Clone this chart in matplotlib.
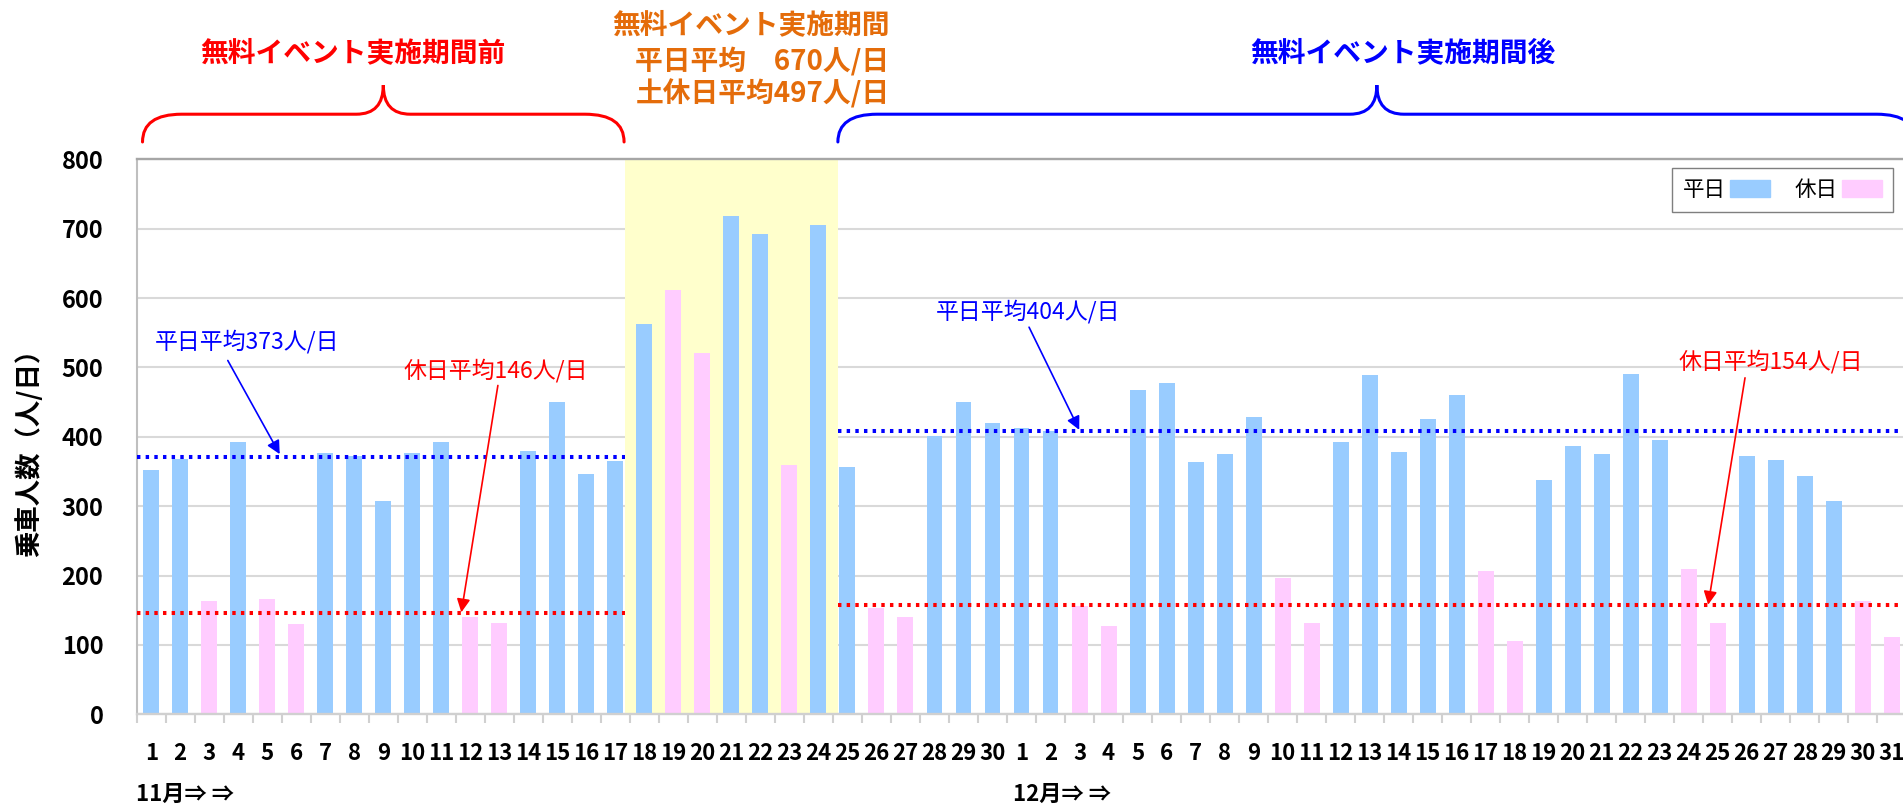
import matplotlib
matplotlib.use("Agg")
import matplotlib.pyplot as plt
from matplotlib.path import Path
import matplotlib.patches as patches

plt.rcParams['font.family'] = ['Noto Sans CJK JP', 'DejaVu Sans']

# 11/1 - 12/31, daily riders
day_labels = [str(d) for d in range(1, 31)] + [str(d) for d in range(1, 32)]
riders = [352, 368, 163, 393, 166, 130, 376, 372, 308, 376, 392, 140, 131, 380, 450,
          347, 365, 563, 611, 521, 718, 693, 359, 706, 356, 153, 140, 401, 450, 420,
          413, 408, 156, 128, 468, 478, 364, 375, 428, 197, 131, 393, 489, 378, 426,
          460, 206, 105, 338, 387, 375, 490, 395, 210, 131, 373, 366, 344, 307, 164, 111]
# 1 = holiday (土休日), 0 = weekday
holiday = [0, 0, 1, 0, 1, 1, 0, 0, 0, 0, 0, 1, 1, 0, 0, 0, 0, 0, 1, 1, 0, 0, 1, 0, 0, 1, 1, 0, 0, 0,
           0, 0, 1, 1, 0, 0, 0, 0, 0, 1, 1, 0, 0, 0, 0, 0, 1, 1, 0, 0, 0, 0, 0, 1, 1, 0, 0, 0, 0, 1, 1]

# average lines: (weekday, holiday) for before / after the event
avg_before = [371, 146]
avg_after = [408, 157]
avg_labels_before = ["平日平均373人/日", "休日平均146人/日"]
avg_labels_after = ["平日平均404人/日", "休日平均154人/日"]

period_titles = ["無料イベント実施期間前", "無料イベント実施期間後"]
event_lines = ["無料イベント実施期間", "平日平均　670人/日", "土休日平均497人/日"]
month_labels = ["11月⇒ ⇒", "12月⇒ ⇒"]
legend_labels = ["平日", "休日"]

BLUE_BAR = "#99CCFF"
PINK_BAR = "#FFCCFF"
ORANGE = "#E46C0A"

# x ranges (category units) of the periods
before_rng = (-0.5, 16.33)
event_rng = (16.33, 23.66)
after_rng = (23.66, 60.6)


def draw_brace(ax, x0, x1, xm, color):
    y_end, y_h, y_tip = 825, 865, 907
    dx, dt = 1.35, 0.93
    verts = [(x0, y_end), (x0, y_h), (x0 + dx, y_h),
             (xm - dt, y_h),
             (xm, y_h), (xm, y_tip),
             (xm, y_h), (xm + dt, y_h),
             (x1 - dx, y_h),
             (x1, y_h), (x1, y_end)]
    codes = [Path.MOVETO, Path.CURVE3, Path.CURVE3,
             Path.LINETO,
             Path.CURVE3, Path.CURVE3,
             Path.CURVE3, Path.CURVE3,
             Path.LINETO,
             Path.CURVE3, Path.CURVE3]
    p = patches.PathPatch(Path(verts, codes), facecolor='none', edgecolor=color,
                          lw=2.2, clip_on=False, capstyle='round')
    ax.add_patch(p)


fig = plt.figure(figsize=(19.03, 8.07), dpi=100)
ax = fig.add_axes([0.07184, 0.11487, 0.92990, 0.68773])

x = list(range(len(riders)))
colors = [PINK_BAR if h else BLUE_BAR for h in holiday]

ax.axvspan(event_rng[0], event_rng[1], ymin=0, ymax=1, color="#FFFFCC", zorder=0.8, lw=0)
ax.bar(x, riders, width=0.55, color=colors, zorder=2)

# gridlines
ax.set_axisbelow(True)
ax.yaxis.grid(True, color="#D9D9D9", lw=1.5)
ax.set_ylim(0, 800)
ax.set_xlim(-0.5, 60.5)
ax.set_yticks(range(0, 801, 100))
ax.tick_params(axis='y', length=0, pad=24, labelsize=17)
for lab in ax.get_yticklabels():
    lab.set_fontweight('bold')

ax.set_xticks(x)
ax.set_xticklabels(day_labels, fontsize=16, fontweight='bold')
ax.set_xticks([i - 0.5 for i in range(len(riders) + 1)], minor=True)
ax.tick_params(axis='x', which='major', length=0, pad=20)
ax.tick_params(axis='x', which='minor', length=6.5, width=1.5, color="#D0D0D0")

ax.spines['top'].set_color("#A6A6A6")
ax.spines['top'].set_linewidth(1.7)
ax.spines['left'].set_color("#BFBFBF")
ax.spines['left'].set_linewidth(1.5)
ax.spines['bottom'].set_color("#D0D0D0")
ax.spines['bottom'].set_linewidth(1.7)
ax.spines['right'].set_visible(False)

# average lines
dot = (0, (0.85, 1.3))
ax.plot(before_rng, [avg_before[0]] * 2, color="#0000FF", lw=2.9, ls=dot, zorder=3)
ax.plot(before_rng, [avg_before[1]] * 2, color="#FF0000", lw=2.9, ls=dot, zorder=3)
ax.plot(after_rng, [avg_after[0]] * 2, color="#0000FF", lw=2.9, ls=dot, zorder=3, clip_on=False)
ax.plot(after_rng, [avg_after[1]] * 2, color="#FF0000", lw=2.9, ls=dot, zorder=3, clip_on=False)

arrow_kw = dict(arrowstyle='-|>', lw=1.2, mutation_scale=20, shrinkA=0, shrinkB=0)
ax.annotate("", xy=(4.43, 375), xytext=(2.64, 510),
            arrowprops=dict(color="#0000FF", **arrow_kw), zorder=4)
ax.text(3.32, 537, avg_labels_before[0], color="#0000FF", fontsize=16.5, ha='center', va='center')
ax.annotate("", xy=(10.69, 147), xytext=(11.95, 474),
            arrowprops=dict(color="#FF0000", **arrow_kw), zorder=4)
ax.text(11.89, 496, avg_labels_before[1], color="#FF0000", fontsize=16.5, ha='center', va='center')
ax.annotate("", xy=(31.99, 410), xytext=(30.26, 558),
            arrowprops=dict(color="#0000FF", **arrow_kw), zorder=4)
ax.text(30.22, 580, avg_labels_after[0], color="#0000FF", fontsize=16.5, ha='center', va='center')
ax.annotate("", xy=(53.67, 158), xytext=(54.94, 485),
            arrowprops=dict(color="#FF0000", **arrow_kw), zorder=4)
ax.text(55.83, 508, avg_labels_after[1], color="#FF0000", fontsize=16.5, ha='center', va='center')

# braces and period titles above the plot
draw_brace(ax, -0.30, 16.30, 8.0, "#FF0000")
draw_brace(ax, 23.67, 60.83, 42.25, "#0000FF")
ax.text(6.96, 953, period_titles[0], color="#FF0000", fontsize=20, fontweight='bold',
        ha='center', va='center', clip_on=False)
ax.text(43.15, 953, period_titles[1], color="#0000FF", fontsize=20, fontweight='bold',
        ha='center', va='center', clip_on=False)
ax.text(20.69, 994, event_lines[0], color=ORANGE, fontsize=20, fontweight='bold',
        ha='center', va='center', clip_on=False)
ax.text(21.07, 942, event_lines[1], color=ORANGE, fontsize=20, fontweight='bold',
        ha='center', va='center', clip_on=False)
ax.text(21.07, 894, event_lines[2], color=ORANGE, fontsize=20, fontweight='bold',
        ha='center', va='center', clip_on=False)

# month labels under the axis
ax.text(-0.52, -116, month_labels[0], fontsize=16, fontweight='bold', ha='left', va='center',
        clip_on=False)
ax.text(29.69, -116, month_labels[1], fontsize=16, fontweight='bold', ha='left', va='center',
        clip_on=False)

fig.text(29.5 / 1903, 1 - 446.8 / 807, "乗車人数（人/日）", rotation=90, fontsize=19,
         fontweight='bold', ha='center', va='center')

handles = [patches.Patch(color=BLUE_BAR), patches.Patch(color=PINK_BAR)]
leg = ax.legend(handles, legend_labels, loc='upper right', ncol=2, markerfirst=False,
                bbox_to_anchor=(1893 / 1903, 1 - 168 / 807), bbox_transform=fig.transFigure,
                borderaxespad=0, fontsize=15.5, handlelength=1.86, handleheight=0.88,
                handletextpad=0.2, columnspacing=1.16, borderpad=0.5,
                fancybox=False, framealpha=1)
leg.get_frame().set_edgecolor("#7F7F7F")
leg.get_frame().set_linewidth(1.0)

fig.savefig("out.png", dpi=100)
